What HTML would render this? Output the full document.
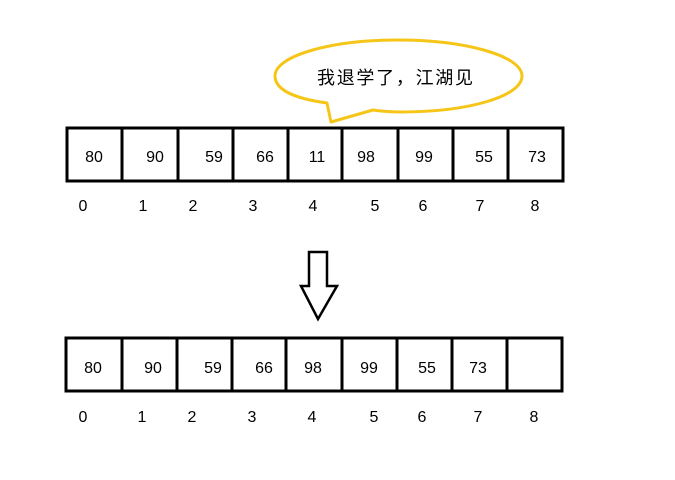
<!DOCTYPE html>
<html><head><meta charset="utf-8"><style>html,body{margin:0;padding:0;background:#fff;}svg{display:block}</style></head>
<body>
<svg width="675" height="480" xmlns="http://www.w3.org/2000/svg" font-family="Liberation Sans, sans-serif">
<rect width="675" height="480" fill="#fff"/>
<!-- bubble -->
<path d="M327,103 C290,98 275,88 275,76 C275,56 330,40 398,40 C466,40 522,56 522,76 C522,96 470,112 400,112 C390,112 380,111 373,110 L331,122 Z" fill="#fff" stroke="#f5c518" stroke-width="3" stroke-linejoin="round"/>
<text x="317" y="84" font-size="18" textLength="156" font-family="Liberation Sans, Noto Sans CJK SC, sans-serif" fill="#000">我退学了，江湖见</text>
<!-- top array -->
<g stroke="#000" stroke-width="3" fill="none">
<rect x="67" y="128" width="496" height="53"/>
<path d="M122,128V181M178,128V181M233,128V181M288,128V181M342,128V181M398,128V181M453,128V181M508,128V181"/>
<rect x="66" y="338" width="496" height="53"/>
<path d="M122,338V391M177,338V391M232,338V391M286,338V391M342,338V391M397,338V391M452,338V391M507,338V391"/>
<path d="M309,252H327V286H337L318,319L301,286H309Z" stroke-width="2.5" stroke-linejoin="miter"/>
</g>
<g font-size="16" text-anchor="middle" fill="#000">
<text x="94" y="162">80</text><text x="155" y="162">90</text><text x="214" y="162">59</text><text x="265" y="162">66</text><text x="317" y="162">11</text><text x="366" y="162">98</text><text x="424" y="162">99</text><text x="484" y="162">55</text><text x="537" y="162">73</text>
<text x="83" y="211">0</text><text x="143" y="211">1</text><text x="193" y="211">2</text><text x="253" y="211">3</text><text x="313" y="211">4</text><text x="375" y="211">5</text><text x="423" y="211">6</text><text x="480" y="211">7</text><text x="535" y="211">8</text>
<text x="93" y="373">80</text><text x="153" y="373">90</text><text x="213" y="373">59</text><text x="264" y="373">66</text><text x="313" y="373">98</text><text x="369" y="373">99</text><text x="427" y="373">55</text><text x="478" y="373">73</text>
<text x="83" y="422">0</text><text x="142" y="422">1</text><text x="192" y="422">2</text><text x="252" y="422">3</text><text x="312" y="422">4</text><text x="374" y="422">5</text><text x="422" y="422">6</text><text x="478" y="422">7</text><text x="534" y="422">8</text>
</g>
</svg>
</body></html>
